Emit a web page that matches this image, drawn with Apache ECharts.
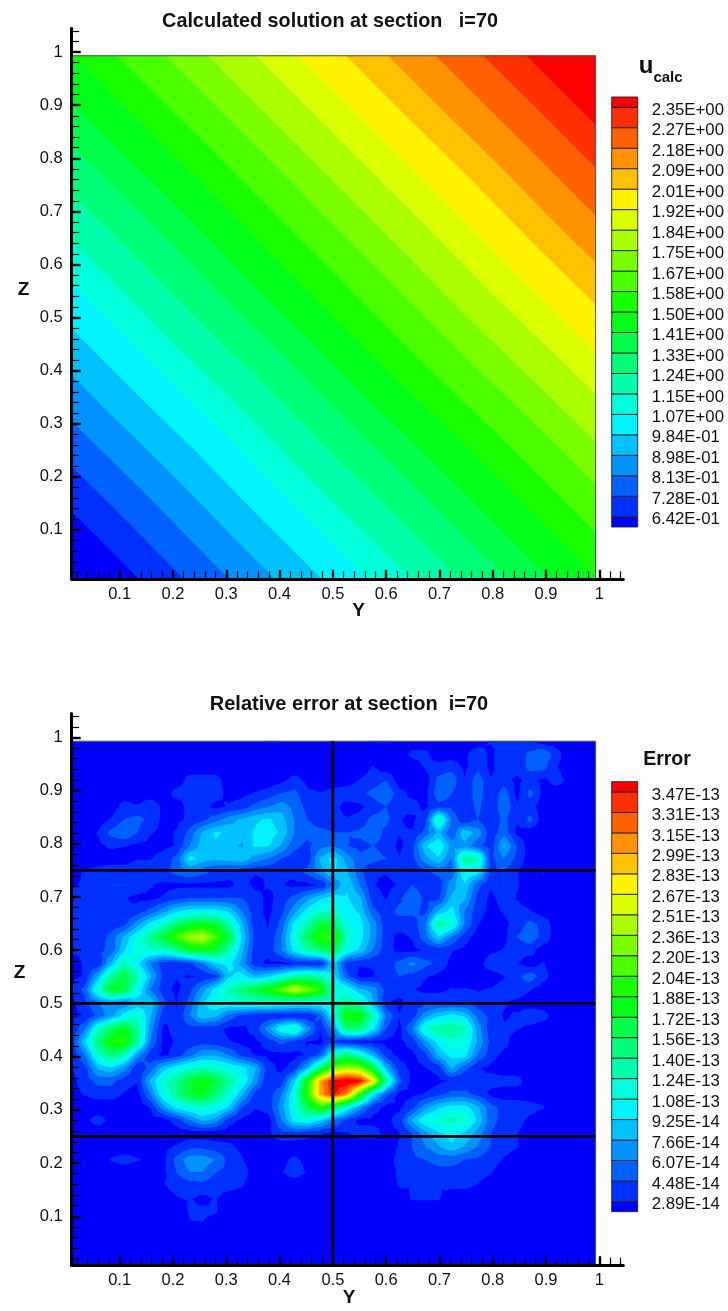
<!DOCTYPE html>
<html><head><meta charset="utf-8">
<style>html,body{margin:0;padding:0;background:#fff}#c{width:728px;height:1311px}</style>
<script src="https://cdn.jsdelivr.net/npm/echarts@6/dist/echarts.min.js"></script>
</head><body><div id="c"></div>
<script>
const bandColors=['#0000ff','#0030ff','#0061ff','#0092ff','#00c2ff','#00f3ff','#00ffda','#00ffaa','#00ff79','#00ff49','#00ff18','#18ff00','#49ff00','#79ff00','#aaff00','#daff00','#fff300','#ffc200','#ff9200','#ff6100','#ff3000','#ff0000'];
const majorTicks=[0.1,0.2,0.3,0.4,0.5,0.6,0.7,0.8,0.9,1];
const minorTicks=[0.02,0.04,0.06,0.08,0.12,0.14,0.16,0.18,0.22,0.24,0.26,0.28,0.32,0.34,0.36,0.38,0.42,0.44,0.46,0.48,0.52,0.54,0.56,0.58,0.62,0.64,0.66,0.68,0.72,0.74,0.76,0.78,0.82,0.84,0.86,0.88,0.92,0.94,0.96,0.98,1.02,1.04];
const uLabels=['6.42E-01','7.28E-01','8.13E-01','8.98E-01','9.84E-01','1.07E+00','1.15E+00','1.24E+00','1.33E+00','1.41E+00','1.50E+00','1.58E+00','1.67E+00','1.75E+00','1.84E+00','1.92E+00','2.01E+00','2.09E+00','2.18E+00','2.27E+00','2.35E+00'];
const uLevels=[0.642,0.728,0.813,0.898,0.984,1.07,1.15,1.24,1.33,1.41,1.50,1.58,1.67,1.75,1.84,1.92,2.01,2.09,2.18,2.27,2.35];
const errLabels=['2.89E-14','4.48E-14','6.07E-14','7.66E-14','9.25E-14','1.08E-13','1.24E-13','1.40E-13','1.56E-13','1.72E-13','1.88E-13','2.04E-13','2.20E-13','2.36E-13','2.51E-13','2.67E-13','2.83E-13','2.99E-13','3.15E-13','3.31E-13','3.47E-13'];
const errLevels=[2.89,4.48,6.07,7.66,9.25,10.8,12.4,14.0,15.6,17.2,18.8,20.4,22.0,23.6,25.1,26.7,28.3,29.9,31.5,33.1,34.7];
const cutZ=[0.25,0.5,0.75];
const cutY=[0.5];
const uAxisY=[0.01,0.256,0.5,0.747,0.993];
const uAxisZ=[0.993,0.747,0.5,0.256,0.008];
const uValues=[
[1.495,1.74,1.985,2.235,2.48],
[1.255,1.495,1.74,1.985,2.235],
[1.005,1.255,1.495,1.745,1.985],
[0.765,1.005,1.255,1.495,1.74],
[0.515,0.765,1.005,1.25,1.495]];
/* error field, read top row first, left column first, in units of 1E-14 */
const errValues=[
[2,2,2,2,2,2,2,2,2,2,2,2,2,2,2,3,3,2,2,2,2,2,2,3,3,2,2,2,2,2,2,2,3,3,3,3,2,2,2,2,2],
[2,2,2,2,2,2,2,2,2,2,2,2,2,2,2,2,2,2,2,2,2,2,2,2,2,2,3.3,3.3,2,2,2.5,4,2.5,4,3.2,5,6,3.5,2,2,2],
[2,2,2,2,2,2,2,2,2,2,2,2,2,2,2,2,2,2,2,2,2,2,2,3,2,2,2,3,3.5,4,2.5,4,2.5,4,3.5,5,5,3,2,2,2],
[2,2,2,2,2,2,2,2,2,3.5,3.5,3.5,2,2,2,2,2.5,3.5,2.5,2,2,2,3,3.5,4.5,2,2,2,5,5.5,3,5.5,3,3.5,2.5,3.5,2.5,3.5,2.5,2,2],
[2,2,2,2,2,2,2,2,3.5,3.5,3.5,3.5,2.5,2.5,3,3.5,4.5,5,3.2,3,3.5,4,4,5,6,3.5,2.5,2.5,5.5,4.5,3,5.5,3,5.5,2.5,5,2.5,2,2,2,2],
[2,2,2,2,3.5,3,4,2.5,2,3.5,3.5,2.5,3,3.5,5,6,7,5.5,4,3.5,3.5,2.2,2.5,3.5,4.5,3,3.5,2.5,4,4,3,5,3,6,3,3.5,2,2,2,2,2],
[2,2,2,3,4.5,5,4,2.5,2.5,3.2,4,5.5,7,8,9,9.5,8.5,6,4.5,3.5,3.5,3,3.5,5,5,3,2.5,4,13,6,3,4.5,3,5,3,5,2,2,2,2,2],
[2,2,3,5,6,4.5,3,2.5,3,5,8,9.5,9,8,9.5,10,9,6,5,5,4.5,4.5,4.8,5.5,4,3,3,5,8,4.5,9,7,3.5,5.5,2.5,2,2,2,2,2,2],
[2,2,2.5,3.2,3,2.5,2.5,2.5,3,6,8.5,9,8,7.5,9.5,9.5,7.5,5,4,5.5,6,4.5,4,4.5,4,2.5,4,9,11,7,7,5,3.5,8,4.5,2,2,2,2,2,2],
[2.5,2,2,2,2,2.8,2.8,3.5,5,10,8.5,8,8.5,9,7,6,4.5,3.5,3.5,8,10,7,5,5,4.5,3,4,7,9,6,14,13,4,6,4,2,2,2,2,2,2],
[2.5,3,3.5,4,4,4,3.8,4,5,6,5,4,3.5,3.2,3,3,3,3.5,5,7,9.5,8,5,3,3,3.5,3.5,4,5,5,11,10,4,4.5,3,2,3,2,2,2,2],
[2.8,3,4,4.5,4.5,4,3,2.5,2.5,2.5,2.5,2.5,2.5,3.5,2.5,3,3,2.5,2.5,3,6,9,6,3,2.5,3,4.5,3.5,3.5,7,9,5,3,4.5,3,2,2,2,2,2,2],
[3,3.5,4,3.5,3,2.5,2.5,3,4,4.5,4.5,4.5,4.5,4.5,3.5,2.5,3.5,5,7,9,10,9.5,8,3.5,2.8,4,6,4,4,8,8,4,2.5,3.5,2.8,2,2,2,2,2,2],
[3,4,4.5,4,3,3.5,5,7,9,10,10,10,9,6,3.5,2.5,4,7,10,12,12,10,9,5,3.5,5,5,4,8,10,6,3.5,2.5,3,3.5,3,2,2,2,2,2],
[3.5,4.5,4,3.5,4,7,10,12,15,17,18,17,13,8,3.5,2.8,5,10,13,17,16,11,10,7,3.5,3.5,3.5,6,14,12,6,3,2,2.5,3.5,5,4,2,2,2,2],
[3,3.5,3.5,5,8,11,14,17,21,24,25,21,17,9,4,3,6,11,16,20,21,12,10,7,3.5,2.5,3,5.5,9,6,3.5,2,2,2.5,4.5,5.5,4,2,2,2,2],
[3,3,4,5,9,12,12,12,14,17,18,17,13,8,3.5,3.5,6,10,13,15,16,11,9,6,3.5,2.5,2.5,3,3.5,3,2.5,2,2.5,3,3.5,3.5,2,2,2,2,2],
[2.5,3,3,8,13,10,6,3.5,3,4,6,9,10,7,3.5,2.5,2.5,3,3,2.8,9,3.5,3,3,3.5,5,6.5,5,4,2.5,2,2,4,4.5,3,2,3,2,2,2,2],
[2.5,3,8,14,17,13,8,4,3,2.8,3,4,9,10,8,9,11,13,14,13,10,5,2.5,2.8,4,4.5,4,3,2.5,2,2,2,2,2.8,4,5.5,3.5,2,2,2,2],
[3,5,12,18,17,11,6,3.5,2.5,4,7,10,13,15,17,19,22,26,23,20,12,11,8,7,4,3.5,3,2.5,2.5,3,3,2.8,3,3.5,4,3,2,2,2,2,2],
[2.5,4,6,7,6,8,9,5,2.8,5,9,11,11,12,12,12,12,11,11,11,12,14,12,8,3,2.5,4,4,4,4,4,3.5,3,3,2.5,2,2,2,2,2,2],
[2.5,3,5,7,10,12,8,3.5,3,6,9,8,5.5,4,3,3,2.8,2.8,3,5,11,19,19,13,6,3,3.5,7,9,10,9,5.5,4,2.8,3,4,3.5,2,2,2,2],
[3,6,12,16,18,14,7,2.5,3.5,4,3.5,3.5,2.5,2.5,3.5,7,11,13,7,3,7,15,15,10,4.5,2.5,6,12,14,14,13,7,3.5,3,3,2.5,2,2,2,2,2],
[3.5,9,15,19,20,14,6,2.5,3,3.5,3.8,3.5,3,2.5,2.5,3.5,5,4,2.8,2.5,4,3,2.5,2.5,2.5,2.5,3.5,7,10,12,11,7.5,4,3.5,2,2,2,2,2,2,2],
[3,6,12,15,13,7,3.5,2.5,3.5,5.5,7.5,7.5,6,4,2.8,2.5,2.5,2.5,3,5,12,15,12,8,3.5,2.5,2.5,4,8,10,10,6,3.5,2.5,2,2,2,2,2,2,2],
[2.8,4,8,9,7,3,5,8.5,10.5,12,12.5,12,11,10,8,3.5,2.5,3.5,8,15,22,24,23,17,8,3.5,2.5,2.8,3.5,8,5,3,2.5,2,2,2,2,2,2,2,2],
[2.5,3.5,5,5,3.5,3,8,12,14,17,19,17,14,11,7,3,3.5,9,19,30,35.5,37,35.5,28,14,5,2.5,2,2.5,3,3,3.2,3.5,3.5,3.5,2,2,2,2,2,2],
[2.5,3,3.5,3.5,2.8,2.2,6,11,14,17,18,15,12,8,4,3.5,6,11,20,30,35,31,20,10,5,2.5,2.5,3,4,5,5,4,2.5,2,2,2,2,2,2,2,2],
[2,2,2,2,2,2,3,7,10,11,12,11,9,4.5,3,3.5,7,11,16,20,16,11,7,3.5,2.5,2.5,4,7,9,10,10,8,5,4,4,3.5,3,2,2,2,2],
[2,2.5,3.5,2.5,2,2,2,2.2,3.5,6,8,7,3.5,2.5,2.2,2.2,6,10,11,9,6,4,2.5,2.5,2.5,3.5,8,11,12,13,12,9,5,4,3.5,2.5,2,2,2,2,2],
[2,2,2,2,2,2,2,2,2,2,2,2,2,2,2,2.5,4,4,3.5,3,2.5,2.8,3.5,3.5,2.5,2.8,4.5,7,9,10,9,7,4.5,3.5,3,2,2,2,2,2,2],
[2,2,2,2,2,2,2.5,2.5,3,4,4,3.5,3.2,2.5,2,2,2,2,2,2,2,2,2,2,2,3,4.5,6,7.5,9,7.5,6,4.5,3.5,3,2,2,2,2,2,2],
[2,2,2,3,3.5,3,2.5,2.5,5,7,7,6,4,3,2.2,2,2.5,3.2,2.5,2,2,2,2,2,2,3.5,4.2,4.5,5,5,4.5,4.2,3.5,2.8,2,2,2,2,2,2,2],
[2,2,2,2,2,2,2,2.5,4.5,6,6,4.5,4,3.5,2.2,2,2.8,3.5,2.8,2,2,2,2,2,2,3.2,3.5,3.8,4,4,3.8,3.5,3,2,2,2,2,2,2,2,2],
[2,2,2,2,2,2,2,2.8,3.4,3.6,3.8,3.6,3.5,3,2,2,2,2,2,2,2,2,2,2,2,3,3,3.2,3,3.2,3.2,2.8,2,2,2,2,2,2,2,2,2],
[2,2,2,2,2,2,2,2,2.8,3,2.5,3,2,2,2,2,2,2,2,2,2,2,2,2,2,2,3,3,3,2,2,2,2,2,2,2,2,2,2,2,2],
[2,2,2,2,2,2,2,2,2,3,3.2,3,2,2,2,2,2,2,2,2,2,2,2,2,2,2,2,2,2,2,2,2,2,2,2,2,2,2,2,2,2],
[2,2,2,2,2,2,2,2,2,2.8,2.8,2,2,2,2,2,2,2,2,2,2,2,2,2,2,2,2,2,2,2,2,2,2,2,2,2,2,2,2,2,2],
[2,2,2,2,2,2,2,2,2,2,2,2,2,2,2,2,2,2,2,2,2,2,2,2,2,2,2,2,2,2,2,2,2,2,2,2,2,2,2,2,2],
[2,2,2,2,2,2,2,2,2,2,2,2,2,2,2,2,2,2,2,2,2,2,2,2,2,2,2,2,2,2,2,2,2,2,2,2,2,2,2,2,2],
[2,2,2,2,2,2,2,2,2,2,2,2,2,2,2,2,2,2,2,2,2,2,2,2,2,2,2,2,2,2,2,2,2,2,2,2,2,2,2,2,2]];

const FONT='"Liberation Sans",Arial,sans-serif';
const errAxisY=errValues[0].map((_,i)=>0.01+i*(0.993-0.01)/40);
const errAxisZ=errValues.map((_,i)=>0.993-i*(0.993-0.01)/40);

function clip(poly,level){
  const res=[];
  for(let i=0;i<poly.length;i++){
    const a=poly[i],b=poly[(i+1)%poly.length];
    const ia=a[2]>=level, ib=b[2]>=level;
    if(ia)res.push(a);
    if(ia!==ib){const t=(level-a[2])/(b[2]-a[2]);res.push([a[0]+t*(b[0]-a[0]),a[1]+t*(b[1]-a[1]),level]);}
  }
  return res;
}
/* One data item per contour band: the region at or above the band's lower level,
   gathered from every grid cell into one path and painted band over band. */
function contourItem(ys,zs,vals,levels){
  return function(params,api){
    const k=api.value(0), lev=k>0?levels[k-1]:-Infinity;
    let d='',x0=1e9,y0=1e9,x1=-1e9,y1=-1e9;
    for(let r=0;r<zs.length-1;r++)for(let c=0;c<ys.length-1;c++){
      const q=[[ys[c],zs[r],vals[r][c]],[ys[c+1],zs[r],vals[r][c+1]],[ys[c+1],zs[r+1],vals[r+1][c+1]],[ys[c],zs[r+1],vals[r+1][c]]];
      const m=[(ys[c]+ys[c+1])/2,(zs[r]+zs[r+1])/2,(q[0][2]+q[1][2]+q[2][2]+q[3][2])/4];
      for(let t=0;t<4;t++){
        const p=clip([q[t],q[(t+1)%4],m],lev);
        if(p.length<3)continue;
        p.forEach((a,i)=>{
          const s=api.coord([a[0],a[1]]);
          x0=Math.min(x0,s[0]);x1=Math.max(x1,s[0]);y0=Math.min(y0,s[1]);y1=Math.max(y1,s[1]);
          d+=(i?'L':'M')+s[0].toFixed(2)+' '+s[1].toFixed(2);
        });
        d+='Z';
      }
    }
    if(!d)return null;
    return {type:'path',shape:{pathData:d,x:x0,y:y0,width:x1-x0,height:y1-y0,layout:'cover'},
      style:{fill:bandColors[k]},silent:true};
  };
}
const bandIndex=bandColors.map((_,k)=>[k]);
function legendData(n){
  const d=[];
  for(let k=0;k<=n;k++)d.push([k===0?-0.5:k-1,k===n?n-0.5:k,k]);
  return d;
}
function legendItem(params,api){
  const a=api.coord([0,api.value(0)]),b=api.coord([1,api.value(1)]);
  return {type:'rect',shape:{x:a[0],y:b[1],width:b[0]-a[0],height:a[1]-b[1]},
    style:{fill:bandColors[api.value(2)],stroke:'#222',lineWidth:0.9}};
}
const pxTop={left:71.7,top:28.2,width:551.6,height:550.6};
const pxBot={left:71.7,top:713.5,width:551.6,height:551.7};
const grids=[pxTop,pxBot,{left:611.7,top:97,width:26,height:430},{left:611.7,top:781.7,width:26,height:430},
  {left:611.7,top:100,width:26,height:430},{left:611.7,top:784.7,width:26,height:430}];
const zMin=0.008,axMax=1.045;
function ax(kind,gridIndex){
  const base={type:'value',gridIndex,min:kind==='x'?0.01:zMin,max:axMax,z:6,splitLine:{show:false},
    position:kind==='x'?'bottom':'left',axisLine:{onZero:false,show:false}};
  const major=Object.assign({},base,{
    axisLine:{show:true,onZero:false,lineStyle:{color:'#000',width:3}},
    axisTick:{show:true,inside:true,length:9,lineStyle:{color:'#000',width:2.4},customValues:majorTicks},
    axisLabel:{show:true,customValues:majorTicks,color:'#111',fontFamily:FONT,fontSize:16.5,margin:kind==='x'?7:9}});
  const minor=Object.assign({},base,{
    axisTick:{show:true,inside:true,length:7.5,lineStyle:{color:'#000',width:1.2},customValues:minorTicks},
    axisLabel:{show:false}});
  return [major,minor];
}
const xAxes=[...ax('x',0),...ax('x',1)];
for(let g=2;g<6;g++)xAxes.push({type:'value',gridIndex:g,min:0,max:1,show:false});
const yAxes=[...ax('y',0),...ax('y',1)];
yAxes.push({type:'value',gridIndex:2,min:-0.5,max:20.5,show:false},{type:'value',gridIndex:3,min:-0.5,max:20.5,show:false});
[[4,uLabels],[5,errLabels]].forEach(([g,labels])=>{
  yAxes.push({type:'value',gridIndex:g,min:-0.5,max:20.5,position:'right',splitLine:{show:false},
    axisLine:{show:false},axisTick:{show:false},
    axisLabel:{show:true,customValues:labels.map((_,i)=>i),formatter:v=>labels[v],margin:14,align:'left',
      color:'#111',fontFamily:FONT,fontSize:16.8}});
});
function box(xi,yi,lo){
  return {type:'line',xAxisIndex:xi,yAxisIndex:yi,symbol:'none',silent:true,z:4,
    lineStyle:{color:'#555',width:1},
    data:[[0.01,0.993],[0.993,0.993],[0.993,lo]]};
}
function contourSeries(axisIndex,ys,zs,vals,levels){
  return {type:'custom',xAxisIndex:axisIndex,yAxisIndex:axisIndex,z:1,silent:true,clip:false,
    renderItem:contourItem(ys,zs,vals,levels),encode:{tooltip:0},data:bandIndex};
}
const series=[
  contourSeries(0,uAxisY,uAxisZ,uValues,uLevels),
  box(0,0,zMin),
  contourSeries(2,errAxisY,errAxisZ,errValues,errLevels),
  box(2,2,zMin),
  {type:'custom',xAxisIndex:4,yAxisIndex:4,z:2,silent:true,renderItem:legendItem,encode:{y:[0,1]},data:legendData(uLabels.length)},
  {type:'custom',xAxisIndex:5,yAxisIndex:5,z:2,silent:true,renderItem:legendItem,encode:{y:[0,1]},data:legendData(errLabels.length)}
];
cutZ.forEach(z=>series.push({type:'line',xAxisIndex:2,yAxisIndex:2,symbol:'none',silent:true,z:5,
  lineStyle:{color:'#000',width:2.8},data:[[0.01,z],[0.993,z]]}));
cutY.forEach(y=>series.push({type:'line',xAxisIndex:2,yAxisIndex:2,symbol:'none',silent:true,z:5,
  lineStyle:{color:'#000',width:2.8},data:[[y,zMin],[y,0.993]]}));

const boldText=(x,y,text,size)=>({type:'text',x,y,silent:true,z:20,
  style:{text,fill:'#111',font:'bold '+size+'px '+FONT,textAlign:'center',textVerticalAlign:'middle'}});
const chart=echarts.init(document.getElementById('c'),null,{renderer:'canvas'});
chart.setOption({
  animation:false,backgroundColor:'#fff',
  title:[
    {text:'Calculated solution at section   i=70',left:325,top:7,textAlign:'center',textStyle:{fontFamily:FONT,fontWeight:'bold',fontSize:19.8,color:'#111'}},
    {text:'Relative error at section  i=70',left:344,top:689,textAlign:'center',textStyle:{fontFamily:FONT,fontWeight:'bold',fontSize:20,color:'#111'}}
  ],
  grid:grids,xAxis:xAxes,yAxis:yAxes,series,
  graphic:[
    boldText(358.5,611,'Y',19),
    boldText(349,1298,'Y',19),
    boldText(23.5,290,'Z',19),
    boldText(19.5,973,'Z',19),
    boldText(646,66,'u',24),
    boldText(668,78,'calc',15),
    boldText(667,760,'Error',19.5)
  ]
});
</script></body></html>
